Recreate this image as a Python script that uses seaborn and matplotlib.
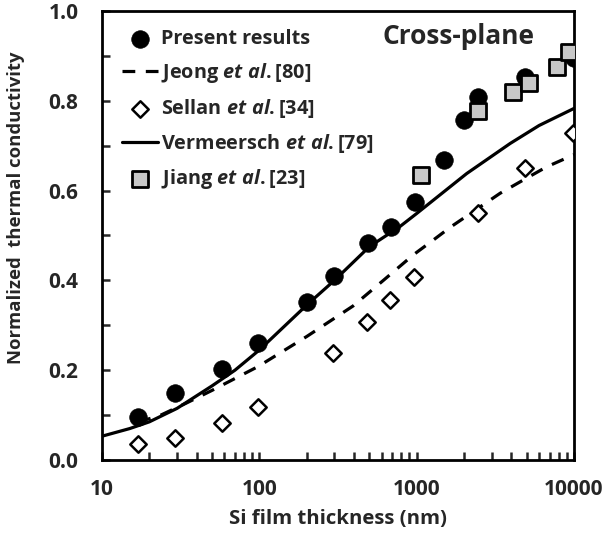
import matplotlib
matplotlib.use("Agg")
import matplotlib.pyplot as plt
import seaborn as sns
import numpy as np
import pandas as pd
from matplotlib.ticker import LogLocator, FixedLocator, MultipleLocator, NullFormatter

# ---- data ----
present_x = [17, 29, 58, 98, 200, 300, 493, 684, 977, 1493, 2010, 2445, 4890, 10000]
present_y = [0.096, 0.149, 0.203, 0.260, 0.352, 0.410, 0.483, 0.520, 0.575, 0.668, 0.757, 0.809, 0.854, 0.895]

sellan_x = [17, 29, 58, 98, 295, 482, 678, 966, 2445, 4890, 9900]
sellan_y = [0.036, 0.050, 0.083, 0.119, 0.238, 0.307, 0.356, 0.408, 0.549, 0.650, 0.728]

jiang_x = [1062, 2445, 4120, 5190, 7830, 9310]
jiang_y = [0.635, 0.777, 0.820, 0.840, 0.876, 0.909]

verm_x = [10, 15, 20, 30, 50, 70, 100, 200, 300, 500, 783, 1000, 2080, 3930, 6000, 10000]
verm_y = [0.053, 0.070, 0.085, 0.115, 0.165, 0.200, 0.245, 0.345, 0.400, 0.475, 0.520, 0.549, 0.638, 0.705, 0.745, 0.783]

jeong_x = [17, 23, 34, 50, 98, 200, 394, 614, 953, 1277, 1630, 3390, 5010, 6710, 10000]
jeong_y = [0.085, 0.098, 0.126, 0.155, 0.208, 0.275, 0.343, 0.400, 0.457, 0.490, 0.518, 0.594, 0.628, 0.653, 0.680]

x_ticks = [10, 100, 1000, 10000]
x_tick_labels = ["10", "100", "1000", "10000"]
y_ticks = [0.0, 0.2, 0.4, 0.6, 0.8, 1.0]

sns.set_style("white")
plt.rcParams['font.family'] = ['Open Sans', 'DejaVu Sans']
plt.rcParams['font.weight'] = 'bold'
plt.rcParams['mathtext.fontset'] = 'custom'
plt.rcParams['mathtext.rm'] = 'Open Sans:bold'
plt.rcParams['mathtext.it'] = 'Open Sans:italic:bold'
plt.rcParams['mathtext.bf'] = 'Open Sans:bold'

fig = plt.figure(figsize=(6.06, 5.43), dpi=100)
ax = fig.add_axes([102/606, 1-460/543, (574-102)/606, (460-11)/543])

lw = 2.3
sns.lineplot(x=jeong_x, y=jeong_y, ax=ax, color='black', lw=lw, label=r'Jeong $\mathit{et\ al.}$[80]', zorder=2)
ax.lines[-1].set_dashes([4, 3.3])
sns.lineplot(x=verm_x, y=verm_y, ax=ax, color='black', lw=lw, label=r'Vermeersch $\mathit{et\ al.}$[79]', zorder=2)
sns.scatterplot(x=sellan_x, y=sellan_y, ax=ax, marker='D', s=70, facecolor='white', edgecolor='black', linewidth=1.8, label=r'Sellan $\mathit{et\ al.}$[34]', zorder=3)
sns.scatterplot(x=present_x, y=present_y, ax=ax, marker='o', s=160, color='black', edgecolor='black', linewidth=0.5, label='Present results', zorder=4)
sns.scatterplot(x=jiang_x, y=jiang_y, ax=ax, marker='s', s=120, facecolor='#c8c8c8', edgecolor='black', linewidth=2.0, label=r'Jiang $\mathit{et\ al.}$[23]', zorder=5)

ax.set_xscale('log')
ax.set_xlim(10, 10000)
ax.set_ylim(0, 1.0)
ax.xaxis.set_major_locator(FixedLocator(x_ticks))
ax.set_xticklabels(x_tick_labels)
ax.xaxis.set_minor_locator(LogLocator(base=10, subs=np.arange(2, 10)))
ax.xaxis.set_minor_formatter(NullFormatter())
ax.set_yticks(y_ticks)
ax.set_yticklabels([f"{v:.1f}" for v in y_ticks])
ax.yaxis.set_minor_locator(MultipleLocator(0.1))

ax.tick_params(axis='both', which='both', direction='in', length=6, width=1.8, labelsize=15,
               bottom=True, left=True, top=False, right=False)
ax.tick_params(axis='y', which='major', pad=17)
ax.tick_params(axis='x', which='major', pad=14)
for lab in ax.get_xticklabels() + ax.get_yticklabels():
    lab.set_fontweight('bold')
for sp in ax.spines.values():
    sp.set_linewidth(2.0)
    sp.set_color('black')

ax.set_xlabel('Si film thickness (nm)', fontsize=14.7, fontweight='bold', labelpad=6)
ax.set_ylabel('Normalized  thermal conductivity', fontsize=13.3, fontweight='bold')
ax.yaxis.set_label_coords(-0.163, 0.562)

ax.text((458-102)/472, (460-37)/449, 'Cross-plane', transform=ax.transAxes,
        fontsize=19, fontweight='bold', ha='center', va='center')

handles, labels = ax.get_legend_handles_labels()
order = ['Present results', r'Jeong $\mathit{et\ al.}$[80]', r'Sellan $\mathit{et\ al.}$[34]',
         r'Vermeersch $\mathit{et\ al.}$[79]', r'Jiang $\mathit{et\ al.}$[23]']
hd = dict(zip(labels, handles))
leg = ax.legend([hd[k] for k in order], order, loc='upper left', bbox_to_anchor=(0.0, 1.004),
                frameon=False, fontsize=14.3, handlelength=1.8, handletextpad=0.15,
                labelspacing=0.6, borderaxespad=0.6)
for txt in leg.get_texts():
    txt.set_fontweight('bold')

fig.savefig('out.png', dpi=100)
